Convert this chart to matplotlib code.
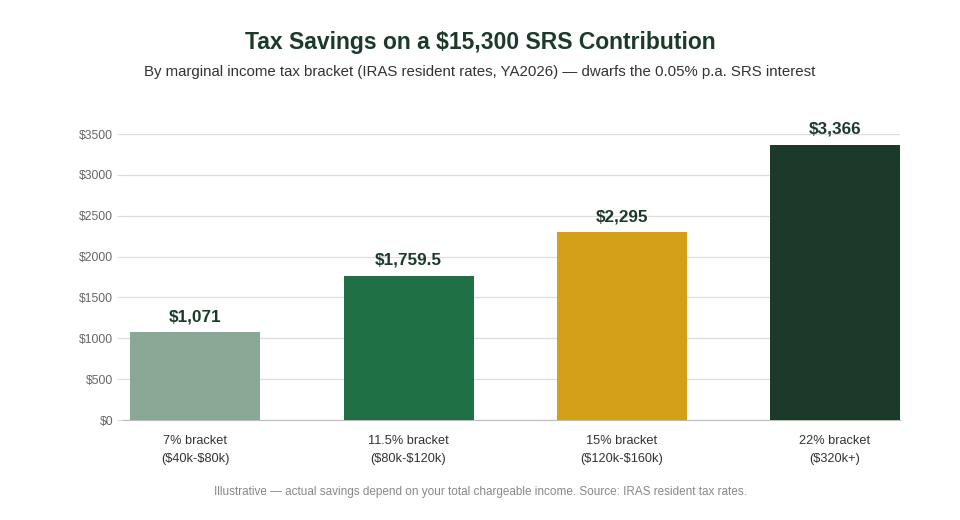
import matplotlib
matplotlib.use('Agg')
import matplotlib.pyplot as plt

plt.rcParams['font.family'] = ['Liberation Sans', 'DejaVu Sans']
plt.rcParams['text.parse_math'] = False

brackets = ['7% bracket\n($40k-$80k)', '11.5% bracket\n($80k-$120k)',
            '15% bracket\n($120k-$160k)', '22% bracket\n($320k+)']
savings = [1071, 1759.5, 2295, 3366]
value_labels = ['$1,071', '$1,759.5', '$2,295', '$3,366']
colors = ['#8aa896', '#1f7045', '#d4a017', '#1b3a2a']
yticks = [0, 500, 1000, 1500, 2000, 2500, 3000, 3500]

fig = plt.figure(figsize=(9.6, 5.2), dpi=100)
ax = fig.add_axes([0.128, 0.1923, 0.8095, 0.55])

x = range(len(savings))
ax.bar(x, savings, width=0.61, color=colors, zorder=3)
for i, (v, lab) in enumerate(zip(savings, value_labels)):
    ax.annotate(lab, (i, v), xytext=(0, 6), textcoords='offset points',
                ha='center', va='bottom', fontsize=12.3, fontweight='bold',
                color='#1b3a2a')

ax.set_xlim(-0.34, 3.305)
ax.set_ylim(0, 3500)
ax.set_yticks(yticks)
ax.set_yticklabels(['$%d' % t for t in yticks], fontsize=8.7, color='#666666')
ax.set_xticks(list(x))
ax.set_xticklabels(brackets, fontsize=9.2, color='#333333', linespacing=1.6)
ax.tick_params(axis='y', length=4, color='#dddddd', pad=3)
ax.tick_params(axis='x', length=0, pad=11)
ax.grid(axis='y', color='#dddddd', linewidth=0.9, zorder=0)
for s in ['top', 'right', 'left']:
    ax.spines[s].set_visible(False)
ax.spines['bottom'].set_color('#bbbbbb')

fig.text(0.5, 0.918, 'Tax Savings on a $15,300 SRS Contribution', ha='center',
         va='center', fontsize=16.5, fontweight='bold', color='#1b3a2a')
fig.text(0.5, 0.861, 'By marginal income tax bracket (IRAS resident rates, YA2026) \u2014 dwarfs the 0.05% p.a. SRS interest',
         ha='center', va='center', fontsize=10.8, color='#333333')
fig.text(0.5, 0.053, 'Illustrative \u2014 actual savings depend on your total chargeable income. Source: IRAS resident tax rates.',
         ha='center', va='center', fontsize=8.5, color='#888888')

fig.savefig('out.png', dpi=100, facecolor='white')
